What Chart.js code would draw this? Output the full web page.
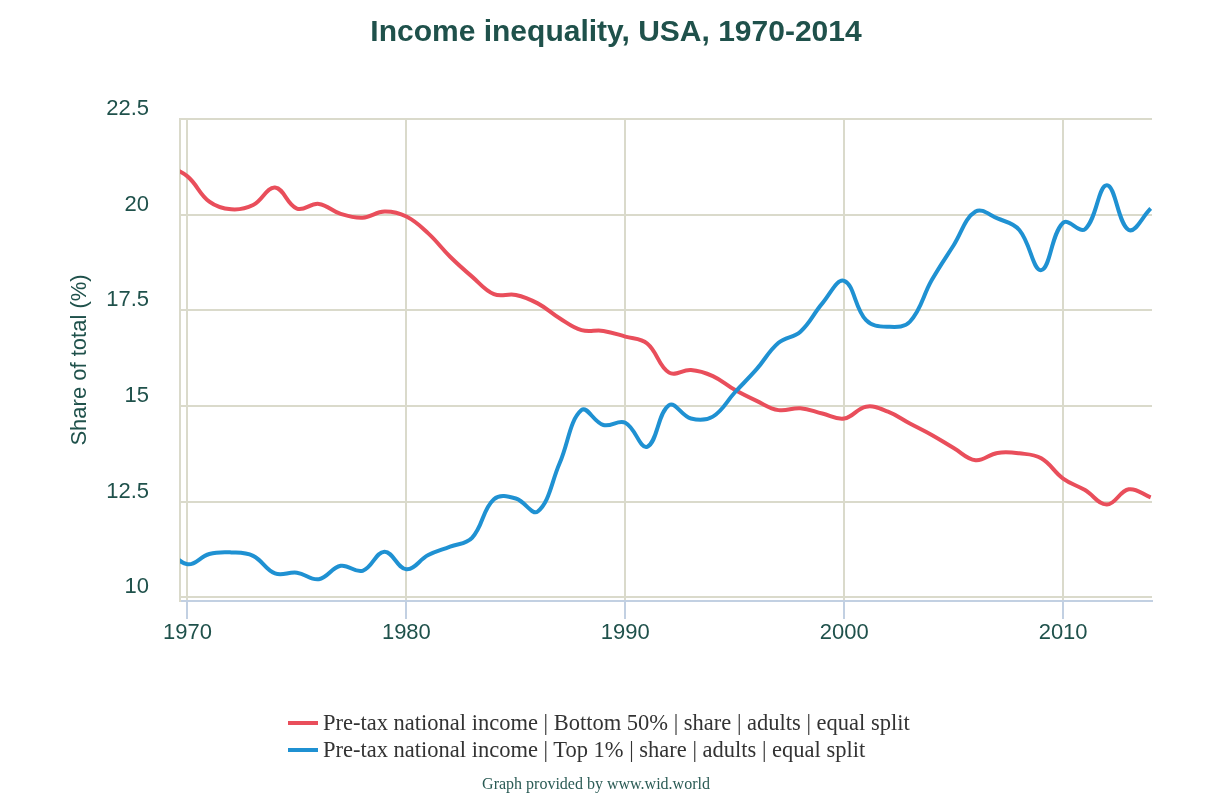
<!DOCTYPE html>
<html>
<head>
<meta charset="utf-8">
<title>Income inequality, USA, 1970-2014</title>
<script src="https://cdn.jsdelivr.net/npm/chart.js@4.4.0/dist/chart.umd.min.js"></script>
<style>
  body {
    margin: 0;
    background: #ffffff;
  }
  #wrap {
    position: relative;
    width: 1232px;
    height: 800px;
  }
  #chartTitle {
    position: absolute;
    left: 0;
    top: 13px;
    width: 1232px;
    text-align: center;
    font: bold 30px "Liberation Sans", Arial, sans-serif;
    line-height: 36px;
    color: #1f514b;
  }
  #legend {
    position: absolute;
    left: 288px;
    top: 709px;
    font: 22.5px "Liberation Serif", "Times New Roman", serif;
    color: #333333;
  }
  .legend-row {
    display: flex;
    align-items: center;
    height: 27px;
  }
  .legend-line {
    width: 30px;
    height: 4px;
    margin-right: 5px;
  }
  #credits {
    position: absolute;
    left: 0;
    top: 775px;
    width: 1192px;
    text-align: center;
    font: 16px "Liberation Serif", "Times New Roman", serif;
    color: #2b5b55;
  }
</style>
</head>
<body>
<div id="wrap">
  <canvas id="incomeChart"></canvas>
  <div id="chartTitle">Income inequality, USA, 1970-2014</div>
  <div id="legend"></div>
  <div id="credits">Graph provided by www.wid.world</div>
</div>
<script>
const TEXT_COLOR = "#1f514b";
const GRID_COLOR = "#dadacb";

// years (1969 only shows as the clipped start of the curves)
const years = [
  1969, 1970, 1971, 1972, 1973, 1974, 1975, 1976, 1977, 1978, 1979,
  1980, 1981, 1982, 1983, 1984, 1985, 1986, 1987, 1988, 1989,
  1990, 1991, 1992, 1993, 1994, 1995, 1996, 1997, 1998, 1999,
  2000, 2001, 2002, 2003, 2004, 2005, 2006, 2007, 2008, 2009,
  2010, 2011, 2012, 2013, 2014,
];

const bottom50 = [
  21.3, 21.0, 20.34, 20.14, 20.25, 20.71, 20.16, 20.28, 20.02, 19.92, 20.08,
  19.95, 19.51, 18.9, 18.38, 17.92, 17.9, 17.68, 17.29, 16.98, 16.96,
  16.81, 16.63, 15.87, 15.94, 15.78, 15.42, 15.13, 14.89, 14.94, 14.8,
  14.67, 14.98, 14.85, 14.54, 14.24, 13.9, 13.58, 13.77, 13.76, 13.63,
  13.1, 12.8, 12.42, 12.82, 12.61,
];

const top1 = [
  11.3, 10.86, 11.13, 11.17, 11.08, 10.62, 10.64, 10.47, 10.82, 10.69, 11.19,
  10.73, 11.1, 11.32, 11.55, 12.56, 12.58, 12.24, 13.5, 14.89, 14.5,
  14.56, 13.93, 15.02, 14.67, 14.72, 15.35, 15.96, 16.65, 16.94, 17.68,
  18.27, 17.24, 17.07, 17.2, 18.29, 19.2, 20.08, 19.9, 19.6, 18.55,
  19.79, 19.62, 20.77, 19.6, 20.16,
];

const seriesLabels = [
  "Pre-tax national income | Bottom 50% | share | adults | equal split",
  "Pre-tax national income | Top 1% | share | adults | equal split",
];
const seriesColors = ["#e94e5b", "#1f91d2"];

const xTickYears = [1970, 1980, 1990, 2000, 2010];
const yTickValues = [10, 12.5, 15, 17.5, 20, 22.5];

function toPoints(values) {
  return years.map((year, i) => ({ x: year, y: values[i] }));
}

// HTML legend, rows left aligned like the original
const legendEl = document.getElementById("legend");
seriesLabels.forEach((label, i) => {
  legendEl.innerHTML += `
    <div class="legend-row">
      <span class="legend-line" style="background:${seriesColors[i]}"></span>
      <span>${label}</span>
    </div>
  `;
});

const incomeChart = new Chart(document.getElementById("incomeChart"), {
  type: "line",

  data: {
    datasets: [
      {
        label: seriesLabels[0],
        data: toPoints(bottom50),
        borderColor: seriesColors[0],
        borderWidth: 4,
        pointRadius: 0,
        tension: 0.4,
        clip: 0,
        order: 1,
      },
      {
        label: seriesLabels[1],
        data: toPoints(top1),
        borderColor: seriesColors[1],
        borderWidth: 4,
        pointRadius: 0,
        tension: 0.4,
        clip: 0,
        order: 0,
      },
    ],
  },

  options: {
    responsive: true,
    maintainAspectRatio: false,
    animation: false,
    layout: {
      padding: { top: 119, left: 63, right: 80, bottom: 155 },
    },

    plugins: {
      legend: { display: false },
      tooltip: { enabled: false },
    },

    scales: {
      x: {
        type: "linear",
        min: 1969.66,
        max: 2014.06,
        afterBuildTicks: (scale) => {
          scale.ticks = xTickYears.map((v) => ({ value: v }));
        },
        afterFit: (scale) => {
          scale.height = 44;
        },
        ticks: {
          color: TEXT_COLOR,
          padding: 3,
          maxRotation: 0,
          font: { family: "'Liberation Sans', Arial, sans-serif", size: 22, lineHeight: 1 },
          callback: (value) => String(value),
        },
        grid: {
          color: GRID_COLOR,
          lineWidth: 2,
          tickColor: "#c2d0e2",
          tickLength: 18,
        },
        border: {
          color: "#c2d0e2",
          width: 2,
        },
      },

      y: {
        min: 9.9,
        max: 22.5,
        afterBuildTicks: (scale) => {
          scale.ticks = yTickValues.map((v) => ({ value: v }));
        },
        afterFit: (scale) => {
          scale.width = 117;
        },
        title: {
          display: true,
          text: "Share of total (%)",
          color: TEXT_COLOR,
          padding: { top: 4, bottom: 0 },
          font: { family: "'Liberation Sans', Arial, sans-serif", size: 22 },
        },
        ticks: {
          color: TEXT_COLOR,
          padding: 31,
          labelOffset: -10,
          font: { family: "'Liberation Sans', Arial, sans-serif", size: 22 },
        },
        grid: {
          color: GRID_COLOR,
          lineWidth: 2,
          drawTicks: false,
        },
        border: {
          color: GRID_COLOR,
          width: 2,
        },
      },
    },
  },
});
</script>
</body>
</html>
